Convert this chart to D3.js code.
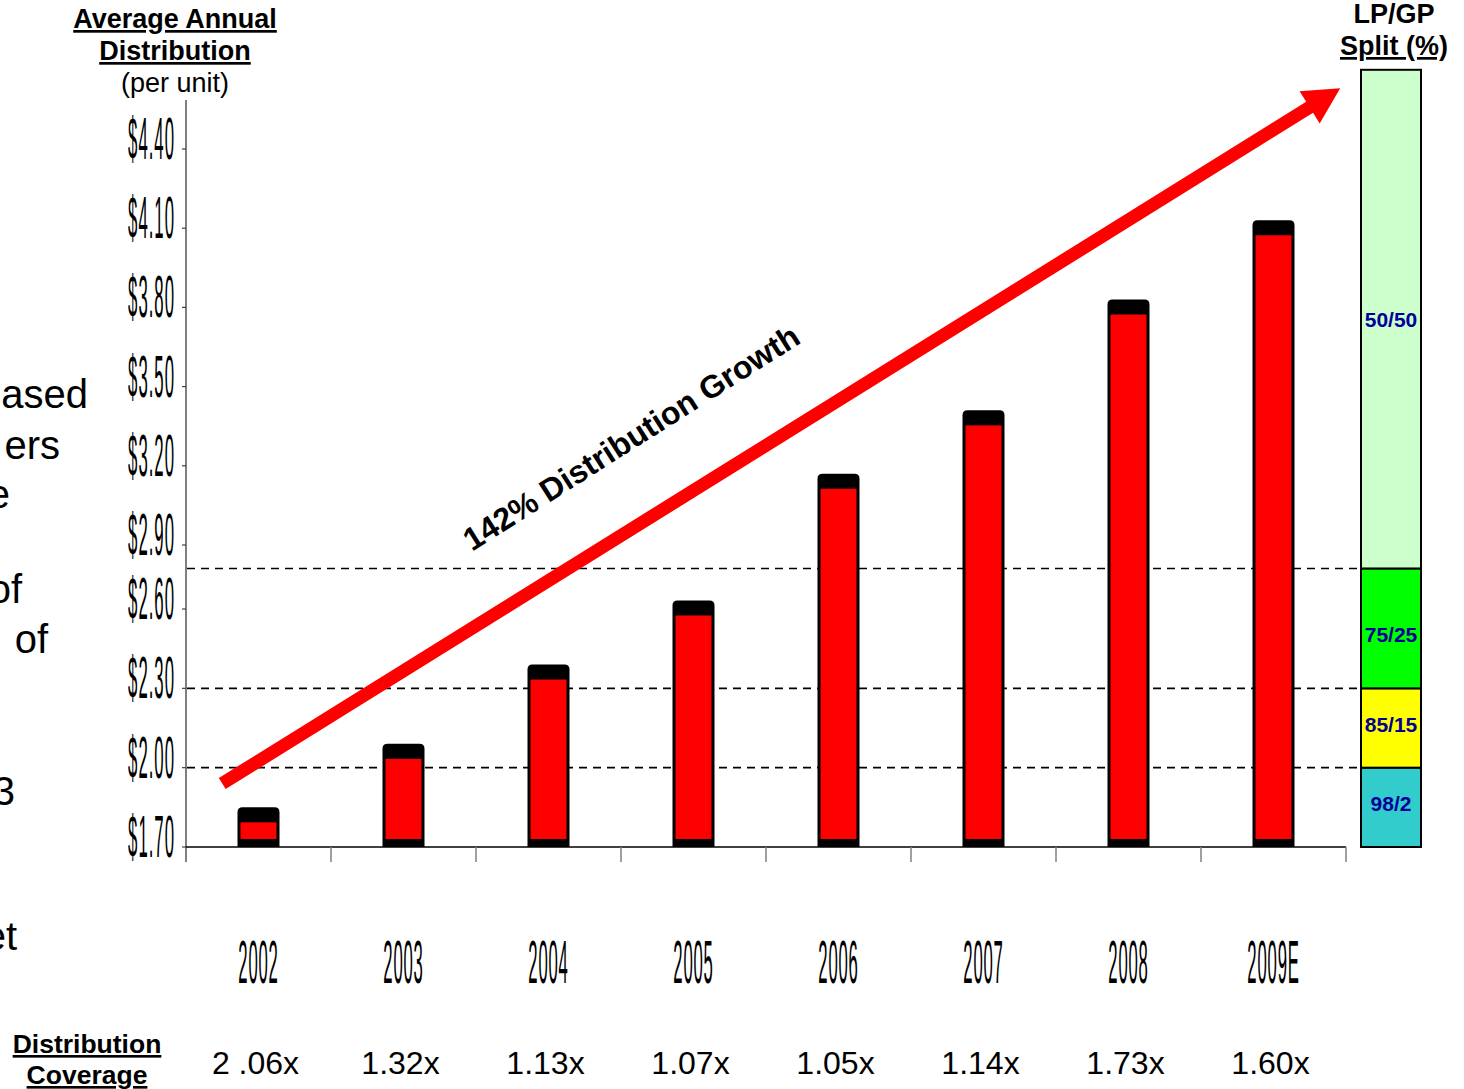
<!DOCTYPE html>
<html>
<head>
<meta charset="utf-8">
<script src="https://cdn.jsdelivr.net/npm/d3@7/dist/d3.min.js"></script>
<style>
  html, body { margin: 0; padding: 0; background: #fff; }
  svg { display: block; font-family: "Liberation Sans", Arial, sans-serif; }
</style>
</head>
<body>
<svg id="chart" width="1464" height="1089"></svg>
<script>
// ---------------- DATA ----------------
const years = ["2002", "2003", "2004", "2005", "2006", "2007", "2008", "2009E"];
const distributions = [1.85, 2.09, 2.39, 2.64, 3.17, 3.41, 3.83, 4.13];
const coverage = ["2 .06x", "1.32x", "1.13x", "1.07x", "1.05x", "1.14x", "1.73x", "1.60x"];
const yTicks = [1.70, 2.00, 2.30, 2.60, 2.90, 3.20, 3.50, 3.80, 4.10, 4.40];
const splitLabels = ["98/2", "85/15", "75/25", "50/50"];
const splitBounds = [1.70, 2.00, 2.30, 2.79, 4.70];
const splitColors = ["#33cccc", "#ffff00", "#00ff00", "#ccffcc"];
const thresholds = [2.00, 2.30, 2.79];
const growthLabel = "142% Distribution Growth";
const arrowFrom = { pos: 0.25, value: 1.94 };
const arrowTo = { pos: 7.96, value: 4.63 };
const leftFragments = ["ased", "ers", "e", "of", "of", "3", "et"];

// ---------------- LAYOUT ----------------
const svg = d3.select("#chart");
const plotL = 186, plotR = 1346;
const base = 847;

const x = d3.scaleBand().domain(years).range([plotL, plotR]).padding(0);
const xPos = d3.scaleLinear().domain([0, years.length]).range([plotL, plotR]);
// the original axis compresses the 2.60–2.90 step
const y = d3.scaleLinear().domain([1.7, 2.6, 2.9, 4.4]).range([base, 609, 545, 149]);

const barW = 42;

// dashed threshold lines (behind bars)
svg.append("g").selectAll("line").data(thresholds).join("line")
  .attr("x1", plotL + 1).attr("x2", 1360)
  .attr("y1", d => y(d)).attr("y2", d => y(d))
  .attr("stroke", "#000").attr("stroke-width", 1.6)
  .attr("stroke-dasharray", "8,6");

// y axis
const yAxis = svg.append("g");
yAxis.append("line").attr("x1", plotL).attr("x2", plotL)
  .attr("y1", 100).attr("y2", 862).attr("stroke", "#808080").attr("stroke-width", 2);
yAxis.selectAll("line.tk").data(yTicks).join("line").attr("class", "tk")
  .attr("x1", plotL - 4).attr("x2", plotL)
  .attr("y1", d => y(d)).attr("y2", d => y(d))
  .attr("stroke", "#404040").attr("stroke-width", 1.2);
yAxis.selectAll("text").data(yTicks).join("text")
  .attr("transform", d => `translate(175,${y(d) + 10}) scale(0.28,1)`)
  .attr("text-anchor", "end")
  .attr("font-size", 60)
  .attr("letter-spacing", 3.5)
  .attr("fill", "#000")
  .text(d => "$" + d.toFixed(2));

// x axis
const xAxis = svg.append("g");
xAxis.append("line").attr("x1", plotL).attr("x2", plotR)
  .attr("y1", base).attr("y2", base).attr("stroke", "#000").attr("stroke-width", 1.5);
xAxis.selectAll("line.tk").data(years).join("line").attr("class", "tk")
  .attr("x1", d => x(d) + x.bandwidth()).attr("x2", d => x(d) + x.bandwidth())
  .attr("y1", base).attr("y2", base + 15)
  .attr("stroke", "#808080").attr("stroke-width", 1.5);
xAxis.selectAll("text").data(years).join("text")
  .attr("transform", d => `translate(${x(d) + x.bandwidth() / 2},983) scale(0.27,1)`)
  .attr("text-anchor", "middle")
  .attr("font-size", 62)
  .attr("letter-spacing", 3)
  .attr("fill", "#000")
  .text(d => d);

// bars
const bars = svg.append("g");
const data = years.map((yr, i) => ({ yr, v: distributions[i] }));
function topRounded(x0, y0, w, h, r) {
  return `M${x0},${y0 + h} L${x0},${y0 + r} Q${x0},${y0} ${x0 + r},${y0} L${x0 + w - r},${y0} Q${x0 + w},${y0} ${x0 + w},${y0 + r} L${x0 + w},${y0 + h} Z`;
}
bars.selectAll("path").data(data).join("path")
  .attr("d", d => {
    const cx = x(d.yr) + x.bandwidth() / 2;
    return topRounded(cx - barW / 2, y(d.v), barW, base - y(d.v), 5);
  })
  .attr("fill", "#000");
bars.selectAll("rect").data(data).join("rect")
  .attr("x", d => x(d.yr) + x.bandwidth() / 2 - barW / 2 + 3)
  .attr("width", barW - 6)
  .attr("y", d => y(d.v) + 15)
  .attr("height", d => Math.max(0, base - 8 - (y(d.v) + 15)))
  .attr("fill", "#ff0000");

// LP/GP split bar
const sx0 = 1361, sx1 = 1421;
const split = svg.append("g");
split.selectAll("rect").data(splitColors).join("rect")
  .attr("x", sx0).attr("width", sx1 - sx0)
  .attr("y", (c, i) => y(splitBounds[i + 1]))
  .attr("height", (c, i) => y(splitBounds[i]) - y(splitBounds[i + 1]))
  .attr("fill", c => c).attr("stroke", "#000").attr("stroke-width", 2);
const labelShift = [4, 4, 14, 8];
split.selectAll("text").data(splitLabels).join("text")
  .attr("x", (sx0 + sx1) / 2)
  .attr("y", (t, i) => (y(splitBounds[i]) + y(splitBounds[i + 1])) / 2 + labelShift[i])
  .attr("text-anchor", "middle")
  .attr("font-size", 21).attr("font-weight", "bold")
  .attr("fill", "#000099")
  .text(t => t);

// growth arrow
const ax0 = xPos(arrowFrom.pos), ay0 = y(arrowFrom.value);
const ax1 = xPos(arrowTo.pos), ay1 = y(arrowTo.value);
const ang = Math.atan2(ay1 - ay0, ax1 - ax0);
const headLen = 36, headHalf = 19, shaft = 6.5;
const len = Math.hypot(ax1 - ax0, ay1 - ay0);
const arrowPts = [
  [0, -shaft], [len - headLen, -shaft], [len - headLen, -headHalf], [len, 0],
  [len - headLen, headHalf], [len - headLen, shaft], [0, shaft]
];
svg.append("path")
  .attr("d", d3.line()(arrowPts))
  .attr("transform", `translate(${ax0},${ay0}) rotate(${ang * 180 / Math.PI})`)
  .attr("fill", "#ff0000");

svg.append("text")
  .attr("transform", `translate(637,447) rotate(-32.4)`)
  .attr("text-anchor", "middle")
  .attr("font-size", 32).attr("font-weight", "bold").attr("fill", "#000")
  .text(growthLabel);

// titles
const t1 = svg.append("g").attr("font-size", 27).attr("font-weight", "bold").attr("text-anchor", "middle");
t1.append("text").attr("x", 175).attr("y", 28).attr("text-decoration", "underline").text("Average Annual");
t1.append("text").attr("x", 175).attr("y", 60).attr("text-decoration", "underline").text("Distribution");
svg.append("text").attr("x", 175).attr("y", 92).attr("text-anchor", "middle")
  .attr("font-size", 27).text("(per unit)");

const t2 = svg.append("g").attr("font-size", 27).attr("font-weight", "bold").attr("text-anchor", "middle");
t2.append("text").attr("x", 1394).attr("y", 23).text("LP/GP");
t2.append("text").attr("x", 1394).attr("y", 55).attr("text-decoration", "underline").text("Split (%)");

// distribution coverage row
const t3 = svg.append("g").attr("font-size", 26.5).attr("font-weight", "bold").attr("text-anchor", "middle");
t3.append("text").attr("x", 87).attr("y", 1053).attr("text-decoration", "underline").text("Distribution");
t3.append("text").attr("x", 87).attr("y", 1084).attr("text-decoration", "underline").text("Coverage");

svg.append("g").selectAll("text").data(coverage).join("text")
  .attr("x", (c, i) => x(years[i]) + x.bandwidth() / 2 - 3)
  .attr("y", 1074)
  .attr("text-anchor", "middle")
  .attr("font-size", 32).attr("fill", "#000")
  .text(c => c);

// clipped text from the neighbouring panel on the left
const fragPos = [[88, 408], [60, 459], [10, 508], [22, 603], [48, 653], [15, 805], [17, 950]];
svg.append("g").selectAll("text").data(leftFragments).join("text")
  .attr("x", (f, i) => fragPos[i][0]).attr("y", (f, i) => fragPos[i][1])
  .attr("text-anchor", "end").attr("font-size", 40).attr("fill", "#000")
  .text(f => f);
</script>
</body>
</html>
